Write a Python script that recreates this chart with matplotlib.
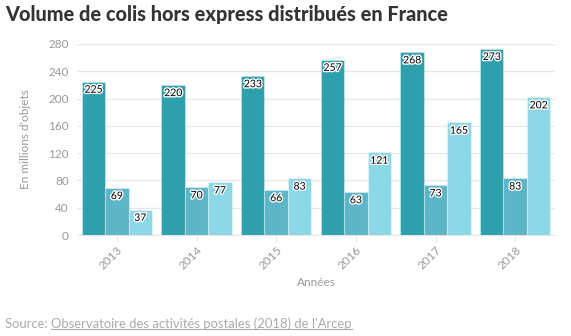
import matplotlib
matplotlib.use("Agg")
import matplotlib.pyplot as plt
import matplotlib.patheffects as pe
import numpy as np

years = ["2013", "2014", "2015", "2016", "2017", "2018"]
serie_a = [225, 220, 233, 257, 268, 273]
serie_b = [69, 70, 66, 63, 73, 83]
serie_c = [37, 77, 83, 121, 165, 202]
yticks = [0, 40, 80, 120, 160, 200, 240, 280]

colors = ["#2ea0ad", "#5cb6c8", "#8dd8e6"]
plt.rcParams['font.family'] = ['Lato', 'DejaVu Sans']

fig = plt.figure(figsize=(5.71, 3.36), dpi=100)
ax = fig.add_axes([77/571, 1-235/336, 478/571, 191/336])

x = np.arange(len(years))
w = 0.88 / 3
for i, (vals, c) in enumerate(zip([serie_a, serie_b, serie_c], colors)):
    pos = x + (i - 1) * w
    bars = ax.bar(pos, vals, width=w, color=c, edgecolor=(1, 1, 1, 0.35), linewidth=0.8, zorder=3)
    for p, v in zip(pos, vals):
        ax.annotate(str(v), (p, v), xytext=(0, -3), textcoords="offset points",
                    ha="center", va="top", fontsize=7.5, color="black", zorder=4,
                    path_effects=[pe.withStroke(linewidth=2, foreground="white")])

ax.set_xlim(-0.5, len(years) - 0.5)
ax.set_ylim(0, 280)
ax.set_yticks(yticks)
ax.set_xticks(x)
ax.set_xticklabels(years, rotation=45, ha="right", rotation_mode="anchor")
ax.grid(axis="y", color="#e6e6e6", linewidth=0.9, zorder=0)
for s in ["top", "right", "left"]:
    ax.spines[s].set_visible(False)
ax.spines["bottom"].set_color("#e6e6e6")
ax.tick_params(axis="y", length=0, labelsize=8.5, labelcolor="#999999", pad=6)
ax.tick_params(axis="x", length=4, color="#e6e6e6", labelsize=8.5, labelcolor="#999999", pad=3)
ax.set_ylabel("En millions d'objets", color="#999999", fontsize=8.5, labelpad=12)
ax.set_xlabel("Années", color="#999999", fontsize=8.5, labelpad=4)

fig.text(5/571, 1-14/336, "Volume de colis hors express distribués en France",
         fontsize=14.3, fontweight="black", color="#333333", va="center", ha="left")

t1 = fig.text(5/571, 1-324/336, "Source: ", fontsize=9.4, color="#aaaaaa", va="center", ha="left")
fig.canvas.draw()
r = fig.canvas.get_renderer()
bb = t1.get_window_extent(r)
x2 = bb.x1 / fig.bbox.width
t2 = fig.text(x2, 1-324/336, "Observatoire des activités postales (2018) de l'Arcep",
              fontsize=9.4, color="#aaaaaa", va="center", ha="left")
bb2 = t2.get_window_extent(r)
yl = (bb2.y0 + 1.5) / fig.bbox.height
fig.add_artist(plt.Line2D([bb2.x0 / fig.bbox.width, bb2.x1 / fig.bbox.width], [yl, yl],
                          transform=fig.transFigure, color="#aaaaaa", linewidth=0.8))

fig.savefig("out.png", dpi=100)
